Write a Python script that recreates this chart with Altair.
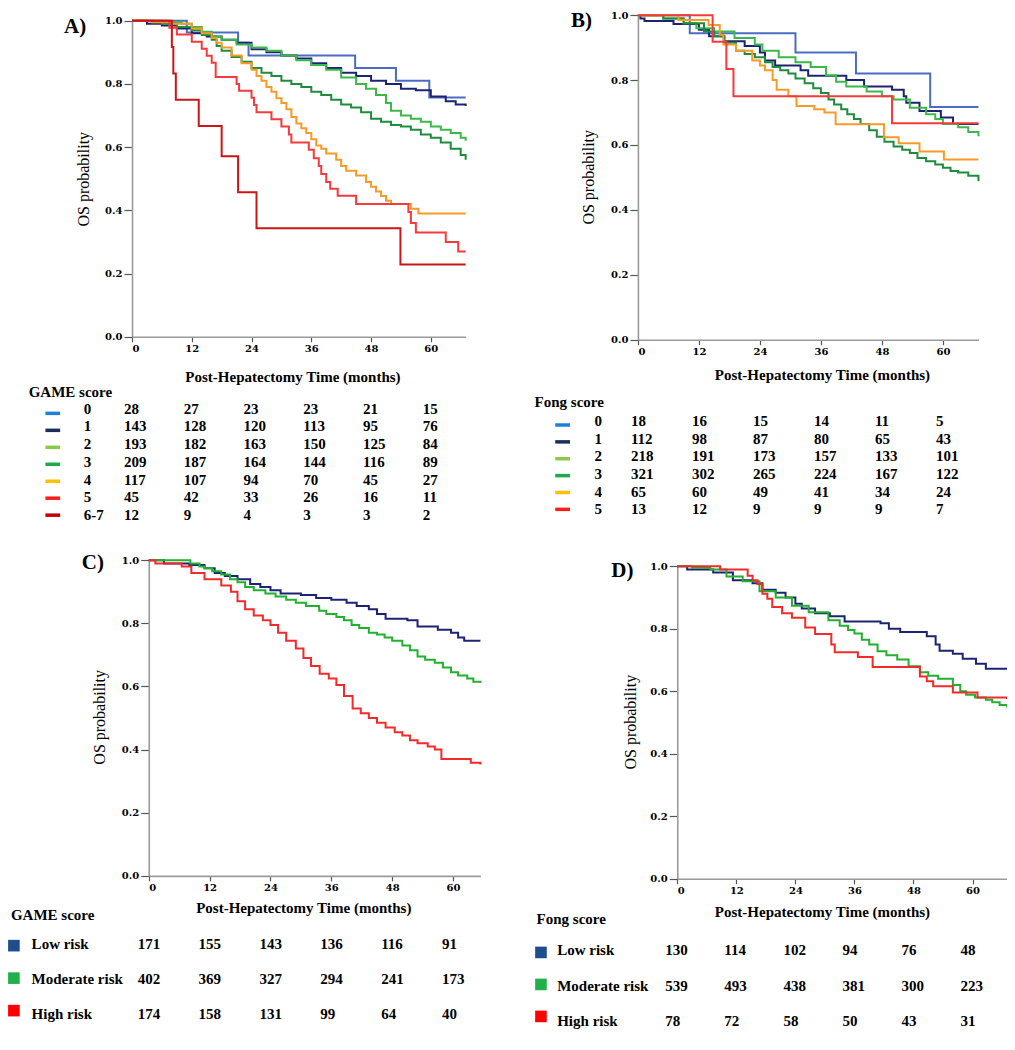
import altair as alt
import pandas as pd

# ---------------------------------------------------------------- data
TIME_POINTS = [0, 12, 24, 36, 48, 60]

# Panel A: GAME score (0 .. 6-7)
A_GROUPS = ["0", "1", "2", "3", "4", "5", "6-7"]
A0_t = [0, 11, 21.3, 23.4, 44.8, 53, 59.7, 67]
A0_s = [1, .963, .93, .89, .85, .81, .757, .757]
A1_t = [0, 3, 6, 9, 12, 15, 18, 21, 24, 27, 30, 33, 36, 39, 42, 45, 48, 51, 54, 57, 60, 63, 65, 67]
A1_s = [1, .99, .985, .975, .96, .95, .94, .93, .91, .90, .89, .88, .865, .85, .835, .825, .81, .80, .785, .78, .76, .745, .735, .73]
A2_t = [0, 6, 10, 12, 14, 16, 18, 21, 24, 27, 30, 33, 36, 39, 42, 45, 47, 49, 51, 52, 54, 56, 58, 60, 62, 64, 66, 67]
A2_s = [1, .995, .99, .98, .965, .95, .94, .925, .915, .905, .89, .875, .86, .845, .82, .80, .785, .765, .74, .715, .70, .69, .68, .665, .655, .645, .63, .62]
A3_t = [0, 4, 6, 9, 12, 14, 16, 17, 18, 20, 22, 24, 26, 28, 30, 32, 34, 36, 38, 40, 42, 44, 46, 48, 50, 52, 54, 56, 58, 60, 62, 64, 66, 67]
A3_s = [1, .995, .99, .98, .97, .955, .94, .92, .905, .885, .87, .85, .835, .825, .81, .80, .79, .775, .765, .75, .735, .725, .71, .69, .68, .67, .665, .655, .64, .63, .615, .595, .575, .56]
A4_t = [0, 4, 8, 12, 14, 16, 17, 18, 20, 22, 24, 25, 26, 27, 28, 29, 30, 31, 32, 33, 34, 35, 36, 37, 38, 39, 41, 42, 43, 45, 47, 48, 49, 50, 51, 52, 56, 57.5, 67]
A4_s = [1, .995, .99, .975, .96, .945, .93, .915, .89, .865, .845, .825, .81, .79, .775, .755, .74, .72, .695, .675, .66, .645, .625, .605, .595, .58, .56, .54, .525, .51, .49, .475, .46, .445, .43, .42, .405, .39, .39]
A5_t = [0, 7.5, 9, 12, 14, 15, 16, 16.8, 21, 21.5, 24, 24.5, 25, 28, 30, 31.5, 32, 35.5, 36.5, 37.5, 38, 39, 39.8, 41.3, 45, 55.5, 56, 57, 63, 65.5, 67]
A5_s = [1, .978, .956, .933, .911, .889, .867, .822, .80, .778, .756, .733, .71, .688, .665, .64, .615, .592, .565, .54, .515, .49, .468, .446, .42, .395, .36, .33, .30, .27, .27]
A6_t = [0, 8, 8.3, 8.8, 13.4, 18, 21.3, 25, 53.9, 67]
A6_s = [1, .917, .833, .75, .667, .571, .457, .343, .229, .229]
A_RISK_0 = [28, 27, 23, 23, 21, 15]
A_RISK_1 = [143, 128, 120, 113, 95, 76]
A_RISK_2 = [193, 182, 163, 150, 125, 84]
A_RISK_3 = [209, 187, 164, 144, 116, 89]
A_RISK_4 = [117, 107, 94, 70, 45, 27]
A_RISK_5 = [45, 42, 33, 26, 16, 11]
A_RISK_6 = [12, 9, 4, 3, 3, 2]

# Panel B: Fong score (0 .. 5)
B_GROUPS = ["0", "1", "2", "3", "4", "5"]
B0_t = [0, 10.2, 31, 42.9, 57.5, 67]
B0_s = [1, .944, .885, .82, .717, .717]
B1_t = [0, 0.5, 1.3, 7, 12, 14, 17, 21, 24, 25, 27, 32, 33.5, 41, 44.5, 50, 52.3, 52.8, 55.4, 59.6, 62, 67]
B1_s = [1, .99, .982, .973, .955, .935, .92, .905, .885, .86, .845, .83, .813, .80, .78, .77, .75, .73, .705, .685, .665, .665]
B2_t = [0, 5, 9, 11.5, 15, 19, 23, 24.5, 27.7, 31, 34, 37, 39, 41, 45, 48, 50.3, 53.5, 56.7, 58.5, 60, 63, 65, 67]
B2_s = [1, .99, .975, .96, .95, .93, .91, .89, .87, .855, .84, .815, .795, .78, .765, .75, .74, .715, .695, .68, .665, .655, .64, .627]
B3_t = [0, 5, 9, 13, 15, 17, 19.3, 21, 23, 25, 26.5, 28, 29.6, 31, 32.8, 34.5, 36, 37.5, 38.6, 40, 41.2, 42.5, 43.8, 45.5, 47, 48.5, 50.3, 52, 53.5, 55, 56.7, 58.5, 60, 61.5, 63, 65, 67]
B3_s = [1, .99, .975, .95, .935, .915, .89, .88, .87, .855, .84, .83, .82, .805, .79, .775, .76, .74, .725, .71, .695, .68, .665, .645, .625, .61, .595, .585, .575, .56, .55, .54, .53, .52, .515, .505, .488]
B4_t = [0, 8, 13.9, 16.1, 16.8, 19.3, 22.5, 24, 25, 26.5, 27.3, 29.6, 31.2, 34.7, 36.7, 38.9, 48.4, 51.3, 55.4, 60.2, 67]
B4_s = [1, .985, .97, .94, .91, .89, .86, .845, .83, .80, .77, .75, .72, .71, .70, .664, .624, .605, .58, .555, .555]
B5_t = [0, 14.7, 17.4, 18.8, 50, 67]
B5_s = [1, .918, .834, .75, .667, .667]
B_RISK_0 = [18, 16, 15, 14, 11, 5]
B_RISK_1 = [112, 98, 87, 80, 65, 43]
B_RISK_2 = [218, 191, 173, 157, 133, 101]
B_RISK_3 = [321, 302, 265, 224, 167, 122]
B_RISK_4 = [65, 60, 49, 41, 34, 24]
B_RISK_5 = [13, 12, 9, 9, 9, 7]

# Panel C: GAME score risk groups
RISK_GROUPS = ["Low risk", "Moderate risk", "High risk"]
C_low_t = [0, 3, 8, 11, 13, 15, 17.5, 20, 22, 24, 26, 30, 33, 36, 39, 41, 43.4, 45, 46.7, 51, 53, 57, 59.6, 61, 62.2, 65.4]
C_low_s = [1, .99, .985, .975, .96, .95, .94, .925, .915, .905, .895, .89, .88, .875, .865, .855, .845, .83, .815, .81, .79, .78, .77, .755, .745, .745]
C_mod_t = [0, 8.2, 10, 11, 12.5, 14.3, 16, 17.5, 19, 20.7, 23, 25, 27.1, 29, 31, 33.6, 35, 37, 38.5, 40, 41.5, 43.4, 45, 46.5, 48, 50, 51.5, 53, 54.5, 56.4, 58, 59.6, 61, 62.8, 64, 65.4]
C_mod_s = [1, .99, .98, .975, .965, .955, .94, .93, .915, .905, .895, .885, .875, .865, .855, .84, .83, .82, .81, .795, .785, .77, .765, .755, .745, .73, .715, .695, .685, .675, .66, .645, .635, .625, .615, .611]
C_high_t = [0, 1.3, 6.5, 8.4, 11, 14.3, 16.2, 17.5, 19, 20.7, 22.5, 24, 25.5, 27.1, 29, 30.5, 32, 33.7, 35.5, 37, 38.5, 40.2, 41.8, 43.4, 45, 46.7, 48.5, 50, 51.5, 53, 55, 56.4, 57.7, 63.5, 65.4]
C_high_s = [1, .99, .98, .96, .94, .92, .90, .87, .845, .825, .81, .795, .77, .745, .72, .69, .665, .64, .625, .605, .57, .53, .515, .50, .485, .47, .455, .445, .43, .42, .41, .40, .37, .358, .353]
C_RISK_LOW = [171, 155, 143, 136, 116, 91]
C_RISK_MOD = [402, 369, 327, 294, 241, 173]
C_RISK_HIGH = [174, 158, 131, 99, 64, 40]

# Panel D: Fong score risk groups
D_low_t = [0, 2, 7.3, 11.3, 15.3, 17.3, 20, 22, 24, 25.3, 28, 31, 34, 41.3, 43, 45.3, 50.7, 52.5, 53.3, 56, 58, 60.7, 62.7, 67]
D_low_s = [1, .99, .98, .955, .946, .925, .915, .90, .88, .865, .85, .84, .823, .818, .80, .79, .776, .75, .73, .72, .704, .688, .672, .672]
D_mod_t = [0, 3, 6.7, 10, 13.3, 16.7, 20, 23.3, 26.7, 30.7, 33, 34.7, 36, 37.5, 39, 40.7, 42.5, 44.7, 47, 49.3, 51, 53, 56, 57.5, 58.7, 60.5, 62.7, 64, 65.5, 67]
D_mod_s = [1, .995, .99, .967, .952, .92, .90, .874, .853, .827, .81, .796, .785, .765, .75, .728, .715, .702, .68, .661, .65, .64, .62, .60, .589, .58, .573, .565, .556, .548]
D_high_t = [0, 8.7, 14.3, 15.3, 16.3, 17.3, 18.3, 19.3, 21.3, 23.3, 26, 28, 31.3, 32, 36.7, 39.7, 49.3, 50.7, 52, 56, 61, 67]
D_high_s = [1, .99, .97, .955, .943, .912, .896, .87, .85, .835, .804, .783, .75, .725, .71, .678, .647, .632, .616, .596, .58, .575]
D_RISK_LOW = [130, 114, 102, 94, 76, 48]
D_RISK_MOD = [539, 493, 438, 381, 300, 223]
D_RISK_HIGH = [78, 72, 58, 50, 43, 31]

# ---------------------------------------------------------------- styling
SCORE_LINE_COLORS = ["#4a6cc4", "#1c2472", "#3cb84a", "#1e8c3c", "#f79a28", "#f43a3c", "#cc1616"]
SCORE_MARK_COLORS = ["#1f7fd6", "#1a2f5e", "#8cc84a", "#1fa84a", "#ffc000", "#ff1c1c", "#c00000"]
RISK_LINE_COLORS = ["#1c2472", "#22b030", "#f22a2a"]
RISK_MARK_COLORS = ["#1f4e8c", "#22b04c", "#ff0000"]

FONT = "Liberation Serif"
TICK_FONT = "DejaVu Serif"

W, H = 999, 1025
SX = W / 1015.0
SY = (H - 6) / 1051.0


def px(x):
    return x * SX


def py(y):
    return 3 + y * SY


PANELS = [
    dict(letter="A)", letter_xy=(57, 16), x0=126, x1=465, xmax=67, ytop=10, ybot=336,
         ytitle_xy=(77, 173), xtitle_xy=(289, 377),
         groups=A_GROUPS,
         series=[(A0_t, A0_s), (A1_t, A1_s), (A2_t, A2_s), (A3_t, A3_s), (A4_t, A4_s), (A5_t, A5_s), (A6_t, A6_s)],
         risk=[A_RISK_0, A_RISK_1, A_RISK_2, A_RISK_3, A_RISK_4, A_RISK_5, A_RISK_6],
         line_colors=SCORE_LINE_COLORS, mark_colors=SCORE_MARK_COLORS,
         header="GAME score", header_xy=(21, 393), rows=(410, 520), mrows=(415, 520),
         marker="dash", marker_x=(38, 53), label_x=77, num_dx=-8),
    dict(letter="B)", letter_xy=(572, 10), x0=640, x1=986, xmax=67, ytop=4.3, ybot=339,
         ytitle_xy=(590, 171), xtitle_xy=(827, 375),
         groups=B_GROUPS,
         series=[(B0_t, B0_s), (B1_t, B1_s), (B2_t, B2_s), (B3_t, B3_s), (B4_t, B4_s), (B5_t, B5_s)],
         risk=[B_RISK_0, B_RISK_1, B_RISK_2, B_RISK_3, B_RISK_4, B_RISK_5],
         line_colors=SCORE_LINE_COLORS[:6], mark_colors=SCORE_MARK_COLORS[:6],
         header="Fong score", header_xy=(535, 403), rows=(423, 514), mrows=(427, 514),
         marker="dash", marker_x=(556, 571), label_x=596, num_dx=-7),
    dict(letter="C)", letter_xy=(75, 569), x0=143, x1=480, xmax=65.4, ytop=566.5, ybot=892,
         ytitle_xy=(93, 728), xtitle_xy=(300, 925),
         groups=RISK_GROUPS,
         series=[(C_low_t, C_low_s), (C_mod_t, C_mod_s), (C_high_t, C_high_s)],
         risk=[C_RISK_LOW, C_RISK_MOD, C_RISK_HIGH],
         line_colors=RISK_LINE_COLORS, mark_colors=RISK_MARK_COLORS,
         header="GAME score", header_xy=(3, 932), rows=(962, 1034), mrows=(964, 1031),
         marker="square", marker_x=(6, 6), label_x=24, num_dx=-11),
    dict(letter="D)", letter_xy=(613, 578), x0=680, x1=1015, xmax=67, ytop=572.7, ybot=895,
         ytitle_xy=(632, 733), xtitle_xy=(827, 929),
         groups=RISK_GROUPS,
         series=[(D_low_t, D_low_s), (D_mod_t, D_mod_s), (D_high_t, D_high_s)],
         risk=[D_RISK_LOW, D_RISK_MOD, D_RISK_HIGH],
         line_colors=RISK_LINE_COLORS, mark_colors=RISK_MARK_COLORS,
         header="Fong score", header_xy=(537, 937), rows=(969, 1042), mrows=(971, 1037),
         marker="square", marker_x=(541.5, 541.5), label_x=558, num_dx=-12),
]


def panel_layers(p):
    xs = alt.Scale(domain=[0, p["xmax"]], range=[px(p["x0"]), px(p["x1"])], nice=False, zero=False)
    ys = alt.Scale(domain=[0, 1], range=[py(p["ybot"]), py(p["ytop"])], nice=False, zero=False)
    n = len(p["groups"])
    rs = alt.Scale(domain=[0, n - 1], range=[py(p["rows"][0]), py(p["rows"][1])], nice=False, zero=False)
    ms = alt.Scale(domain=[0, n - 1], range=[py(p["mrows"][0]), py(p["mrows"][1])], nice=False, zero=False)

    km_rows = []
    for g, (t, s), c in zip(p["groups"], p["series"], p["line_colors"]):
        for ti, si in zip(t, s):
            km_rows.append(dict(t=ti, s=si, g=g, c=c))
    km_df = pd.DataFrame(km_rows)

    x_axis = alt.Axis(
        orient="bottom", offset=py(p["ybot"]) - H, values=TIME_POINTS, format="d",
        title="Post-Hepatectomy Time (months)",
        titleX=px(p["xtitle_xy"][0]), titleY=py(p["xtitle_xy"][1]) - py(p["ybot"]),
        titleAlign="center", titleBaseline="middle", titleAngle=0,
        titleFont=FONT, titleFontSize=15, titleFontWeight="bold", titleColor="black",
        labelFont=TICK_FONT, labelFontSize=10, labelFontWeight="bold", labelColor="black",
        tickSize=5, labelPadding=2, tickColor="#555555", tickWidth=1.2,
        domainColor="#9a9a9a", domainWidth=1.6, grid=False,
    )
    y_axis = alt.Axis(
        orient="left", offset=-px(p["x0"]), values=[0, 0.2, 0.4, 0.6, 0.8, 1.0], format=".1f",
        title="OS probability",
        titleX=px(p["ytitle_xy"][0]) - px(p["x0"]), titleY=py(p["ytitle_xy"][1]),
        titleAngle=270, titleAlign="center", titleBaseline="middle",
        titleFont=FONT, titleFontSize=16, titleFontWeight="normal", titleColor="black",
        labelFont=TICK_FONT, labelFontSize=10, labelFontWeight="bold", labelColor="black",
        tickSize=8, labelPadding=2, tickColor="#555555", tickWidth=1.2,
        domainColor="#9a9a9a", domainWidth=1.6, grid=False,
    )

    km = alt.Chart(km_df).mark_line(interpolate="step-after", strokeWidth=2).encode(
        x=alt.X("t:Q", scale=xs, axis=x_axis),
        y=alt.Y("s:Q", scale=ys, axis=y_axis),
        color=alt.Color("c:N", scale=None),
        detail="g:N",
    )

    num_rows = []
    lab_rows = []
    for i, (g, counts, mc) in enumerate(zip(p["groups"], p["risk"], p["mark_colors"])):
        lab_rows.append(dict(row=i, lab=g, mc=mc))
        for t, cnt in zip(TIME_POINTS, counts):
            num_rows.append(dict(t=t, row=i, n=str(cnt)))
    num_df = pd.DataFrame(num_rows)
    lab_df = pd.DataFrame(lab_rows)

    text_style = dict(font=FONT, fontSize=15, fontWeight="bold", color="black", baseline="middle", align="left")

    nums = alt.Chart(num_df).mark_text(dx=p["num_dx"], **text_style).encode(
        x=alt.X("t:Q", scale=xs, axis=None),
        y=alt.Y("row:Q", scale=rs, axis=None),
        text="n:N",
    )
    labs = alt.Chart(lab_df).mark_text(**text_style).encode(
        x=alt.value(px(p["label_x"])),
        y=alt.Y("row:Q", scale=rs, axis=None),
        text="lab:N",
    )
    if p["marker"] == "dash":
        marks = alt.Chart(lab_df).mark_rule(strokeWidth=3.5).encode(
            x=alt.value(px(p["marker_x"][0])), x2=alt.value(px(p["marker_x"][1])),
            y=alt.Y("row:Q", scale=ms, axis=None),
            color=alt.Color("mc:N", scale=None),
        )
    else:
        marks = alt.Chart(lab_df).mark_square(size=135, opacity=1).encode(
            x=alt.value(px(p["marker_x"][0])),
            y=alt.Y("row:Q", scale=ms, axis=None),
            color=alt.Color("mc:N", scale=None),
        )
    header = alt.Chart(pd.DataFrame({"h": [p["header"]]})).mark_text(**text_style).encode(
        x=alt.value(px(p["header_xy"][0])), y=alt.value(py(p["header_xy"][1])), text="h:N"
    )
    letter = alt.Chart(pd.DataFrame({"h": [p["letter"]]})).mark_text(
        font=FONT, fontSize=21, fontWeight="bold", color="black", baseline="middle", align="left"
    ).encode(x=alt.value(px(p["letter_xy"][0])), y=alt.value(py(p["letter_xy"][1])), text="h:N")

    return [km, nums, labs, marks, header, letter]


layers = []
for p in PANELS:
    layers.extend(panel_layers(p))

chart = (
    alt.layer(*layers)
    .resolve_scale(x="independent", y="independent")
    .properties(width=W, height=H, padding=0, autosize=alt.AutoSizeParams(type="none"))
    .configure_view(stroke=None)
)

chart.save("out.html", embed_options={"renderer": "svg", "actions": False})
